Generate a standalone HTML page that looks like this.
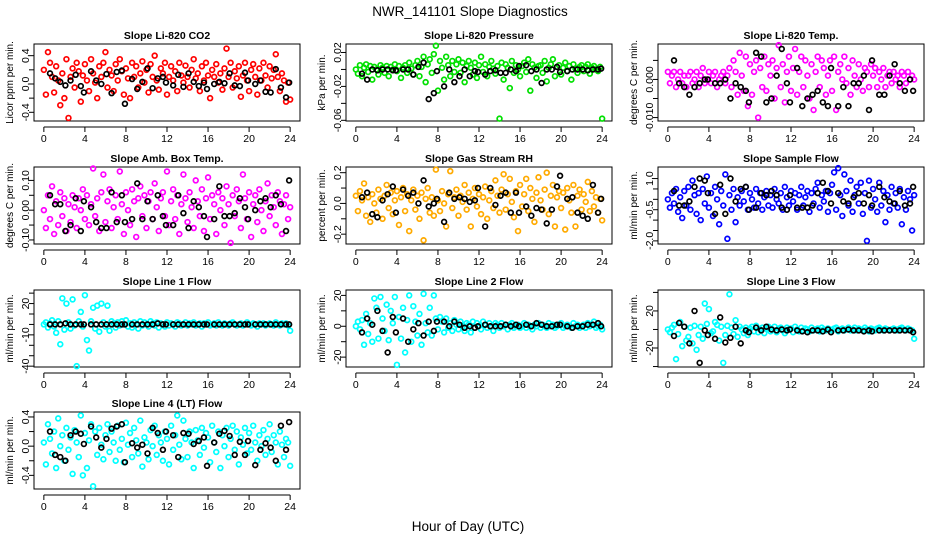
<!DOCTYPE html>
<html><head><meta charset="utf-8"><title>NWR_141101 Slope Diagnostics</title>
<style>
html,body{margin:0;padding:0;background:#fff;}
svg{display:block;font-family:"Liberation Sans",Arial,sans-serif;}
</style></head>
<body>
<svg id="chart" width="936" height="540" viewBox="0 0 936 540" xmlns="http://www.w3.org/2000/svg">
<rect x="0" y="0" width="936" height="540" fill="#fff"/>
<text x="470" y="16" font-size="13.5" text-anchor="middle">NWR_141101  Slope Diagnostics</text>
<text x="468" y="531" font-size="13.5" text-anchor="middle">Hour of Day (UTC)</text>
</svg>
<script>
const hours=[0,0.2,0.4,0.6,0.8,1,1.2,1.4,1.6,1.8,2,2.2,2.4,2.6,2.8,3,3.2,3.4,3.6,3.8,4,4.2,4.4,4.6,4.8,5,5.2,5.4,5.6,5.8,6,6.2,6.4,6.6,6.8,7,7.2,7.4,7.6,7.8,8,8.2,8.4,8.6,8.8,9,9.2,9.4,9.6,9.8,10,10.2,10.4,10.6,10.8,11,11.2,11.4,11.6,11.8,12,12.2,12.4,12.6,12.8,13,13.2,13.4,13.6,13.8,14,14.2,14.4,14.6,14.8,15,15.2,15.4,15.6,15.8,16,16.2,16.4,16.6,16.8,17,17.2,17.4,17.6,17.8,18,18.2,18.4,18.6,18.8,19,19.2,19.4,19.6,19.8,20,20.2,20.4,20.6,20.8,21,21.2,21.4,21.6,21.8,22,22.2,22.4,22.6,22.8,23,23.2,23.4,23.6,23.8,24];
const blackHours=[0.6,1.1,1.6,2.1,2.6,3.1,3.6,3.9,4.6,5.1,5.6,6.1,6.6,7.1,7.6,7.9,8.6,9.1,9.6,10.1,10.6,11.1,11.6,11.9,12.6,13.1,13.6,14.1,14.6,15.1,15.6,15.9,16.6,17.1,17.6,18.1,18.6,19.1,19.6,19.9,20.6,21.1,21.6,22.1,22.6,23.1,23.6,23.9];
const xTicks=[0,4,8,12,16,20,24];

const co2Values=[0.20,-0.15,0.45,0.30,0.10,-0.12,0.25,0.05,-0.30,0.15,-0.20,0.35,-0.48,0.10,0.22,-0.05,0.30,0.18,-0.25,0.12,0.28,0.05,-0.10,0.35,0.15,0.02,-0.20,0.25,0.10,0.30,0.45,-0.05,0.20,0.12,-0.10,0.28,0.05,0.35,0.18,-0.15,0.22,0.08,-0.20,0.30,0.10,0.25,-0.05,0.15,0.32,0.02,0.20,-0.12,0.28,0.10,0.40,0.05,-0.08,0.22,0.15,0.30,-0.15,0.10,0.25,0.05,0.18,-0.10,0.30,0.12,0.02,0.26,0.10,-0.05,0.20,0.35,0.08,0.15,-0.10,0.25,0.05,0.30,0.12,-0.20,0.20,0.10,0.28,0.02,0.15,-0.08,0.22,0.50,0.10,0.30,-0.05,0.18,0.08,0.25,-0.18,0.12,0.30,0.05,-0.10,0.20,0.28,0.10,-0.15,0.22,0.05,0.30,0.12,-0.05,0.25,0.08,0.20,0.42,0.10,-0.10,0.15,0.05,-0.25,0.02,-0.22];
const co2Black=[0.15,0.08,0.03,-0.02,0.05,0.13,-0.03,-0.12,0.18,0.05,0.0,0.14,-0.13,0.17,0.19,-0.28,0.07,-0.07,0.03,0.22,-0.06,0.08,0.1,0.02,-0.02,0.13,-0.04,0.15,0.03,-0.03,0.02,-0.07,0.0,0.03,0.01,0.15,-0.02,-0.03,0.16,0.05,0.0,0.05,-0.11,-0.12,0.21,-0.05,-0.19,0.02];

const pressValues=[0.000,-0.005,0.005,-0.008,0.002,0.006,-0.003,0.004,-0.012,0.003,0.000,-0.006,0.005,0.002,-0.004,0.004,-0.008,0.003,0.000,0.006,-0.002,0.004,-0.010,0.002,0.005,-0.004,0.008,0.001,-0.006,0.005,0.010,-0.008,0.003,0.015,-0.015,0.006,0.012,-0.004,0.018,0.028,-0.025,0.010,0.002,-0.012,0.015,0.005,-0.008,0.010,-0.003,0.006,0.012,-0.004,0.008,-0.015,0.004,0.010,0.002,-0.006,0.008,-0.010,0.005,0.015,-0.003,0.006,-0.008,0.003,0.010,0.001,-0.005,0.004,-0.058,0.008,-0.012,0.006,0.002,-0.022,0.010,-0.004,0.005,0.000,-0.008,0.004,0.008,-0.003,0.012,-0.025,0.006,0.002,-0.010,0.004,0.005,-0.004,0.010,-0.014,0.002,0.006,0.012,-0.008,0.003,0.005,-0.006,0.002,0.008,-0.002,0.004,-0.012,0.006,0.001,-0.004,0.003,0.005,-0.002,0.003,0.006,-0.005,0.002,0.004,0.000,-0.002,0.003,-0.058];
const pressBlack=[-0.005,-0.012,0.0,-0.001,0.0,0.0,-0.001,-0.001,0.0,0.0,-0.006,0.003,0.008,-0.035,-0.028,-0.002,-0.020,0.0,-0.015,-0.008,0.0,-0.008,-0.002,-0.003,-0.006,-0.002,-0.001,-0.004,-0.004,0.0,-0.002,0.004,0.005,-0.002,0.0,-0.016,0.0,0.0,0.003,-0.003,-0.002,0.0,0.0,0.0,-0.001,0.0,0.0,0.001];

const tempValues=[0.002,-0.001,0.001,0.002,-0.002,0.000,0.002,-0.001,0.001,-0.002,0.001,0.002,-0.001,0.000,0.002,-0.002,0.001,0.003,-0.001,0.000,0.002,-0.001,0.001,0.002,-0.002,0.000,0.001,0.002,-0.001,0.001,0.003,-0.002,0.005,0.002,-0.004,0.007,0.001,-0.003,0.006,-0.007,0.004,-0.004,0.002,0.005,-0.010,0.003,-0.002,0.006,-0.003,0.004,0.001,0.005,-0.005,0.003,0.009,-0.002,0.004,-0.006,0.002,0.006,-0.003,0.003,0.008,-0.004,0.002,0.006,-0.002,0.005,0.001,-0.005,0.004,-0.008,0.002,0.006,-0.002,0.005,0.003,-0.004,0.001,0.005,-0.003,0.006,-0.008,0.002,0.004,0.000,0.006,-0.001,0.003,-0.004,0.005,0.001,-0.002,0.004,0.000,-0.003,0.003,0.002,-0.002,0.004,0.001,0.003,-0.002,0.002,0.000,0.003,-0.002,0.001,0.002,-0.001,0.002,0.000,0.001,-0.002,0.002,0.001,-0.001,0.002,0.000,0.001,0.000];
const tempBlack=[0.005,-0.001,-0.002,-0.004,-0.002,-0.001,0.000,0.000,-0.001,-0.001,0.000,-0.005,-0.001,-0.002,-0.003,-0.006,0.007,0.006,-0.006,-0.005,0.001,0.008,-0.001,-0.006,0.003,-0.007,-0.005,-0.004,-0.003,-0.006,-0.007,0.003,-0.007,-0.002,-0.007,-0.001,-0.001,0.001,-0.008,0.005,-0.004,-0.004,0.001,0.004,-0.001,-0.003,0.000,-0.003];

const ambValues=[0.00,-0.06,0.05,-0.03,0.08,-0.08,0.03,-0.05,0.06,-0.02,0.04,-0.07,0.02,-0.04,0.05,0.01,-0.06,0.04,0.00,0.07,-0.03,0.05,-0.05,0.02,0.14,-0.02,0.04,-0.07,0.06,0.12,-0.04,0.03,0.07,-0.06,0.01,0.05,-0.03,0.13,0.02,-0.08,0.06,0.00,-0.05,0.07,0.03,-0.09,0.04,0.08,-0.02,0.05,-0.06,0.03,0.06,-0.03,0.09,0.01,-0.07,0.04,0.06,-0.02,0.13,-0.05,0.03,0.07,-0.03,0.05,-0.08,0.02,0.12,0.04,-0.04,0.06,0.01,-0.06,0.10,0.03,-0.02,0.07,-0.07,0.04,0.11,-0.03,0.05,0.02,-0.08,0.06,0.00,0.04,-0.05,0.08,0.02,-0.11,0.05,-0.02,0.07,0.03,-0.06,0.12,0.04,-0.03,0.06,-0.09,0.02,0.05,-0.04,0.07,0.00,-0.07,0.03,0.09,-0.02,0.05,0.01,-0.05,0.06,0.03,-0.08,0.02,0.05,-0.03,0.01];
const ambBlack=[0.05,0.02,0.02,-0.07,-0.05,0.04,-0.07,0.03,0.01,-0.04,-0.06,-0.06,0.06,-0.04,0.05,-0.04,-0.03,0.09,-0.03,0.03,-0.03,0.05,-0.02,-0.05,-0.05,0.05,-0.01,-0.06,0.03,0.01,-0.02,-0.09,-0.03,0.08,-0.02,-0.02,-0.01,0.04,0.01,-0.03,0.0,0.03,0.04,0.01,0.05,0.02,-0.07,0.1];

const rhValues=[0.05,-0.05,0.08,0.02,0.13,-0.08,0.04,-0.12,0.06,0.00,-0.06,0.09,0.03,-0.10,0.05,0.12,-0.03,0.07,-0.07,0.02,0.08,-0.14,0.04,0.10,-0.05,0.06,-0.18,0.02,0.09,-0.04,0.05,-0.10,0.07,-0.24,0.03,0.10,-0.06,0.04,-0.08,0.22,0.02,-0.05,0.08,0.00,-0.15,0.06,0.21,-0.03,0.04,0.09,-0.08,0.05,0.01,0.12,-0.04,0.07,-0.15,0.03,0.10,-0.02,0.06,-0.07,0.04,0.11,-0.10,0.02,0.08,-0.03,0.15,0.05,-0.06,0.09,0.19,-0.04,0.06,0.16,0.01,-0.09,0.08,-0.18,0.12,-0.02,0.06,0.16,-0.05,0.10,0.03,-0.12,0.07,0.17,0.02,-0.04,0.09,0.20,-0.07,0.05,0.12,-0.15,0.04,0.08,-0.03,0.07,-0.17,0.10,0.02,-0.06,0.12,-0.15,0.05,0.09,-0.04,0.06,0.01,0.14,-0.05,0.08,-0.02,0.04,-0.06,0.03,-0.11];
const rhBlack=[0.04,0.07,-0.07,-0.09,0.02,0.06,0.11,-0.06,0.09,0.05,0.07,0.0,0.15,-0.02,0.0,0.03,-0.12,0.07,0.03,0.04,0.03,0.01,0.02,0.1,-0.15,0.1,-0.01,0.05,0.07,-0.06,0.07,-0.06,-0.02,-0.08,-0.03,-0.04,-0.13,-0.04,0.11,0.18,0.03,0.04,-0.06,-0.08,-0.1,0.12,-0.06,0.03];

const sampleValues=[0.0,-0.4,0.3,-0.2,0.5,-0.6,0.1,-0.9,0.4,-0.3,0.6,-0.5,0.9,0.2,-0.7,0.3,-1.0,0.5,-0.2,1.1,-0.4,0.3,-0.8,0.6,0.0,-1.2,0.4,-0.3,1.2,-1.9,0.2,-0.5,0.5,-1.1,0.1,-0.3,0.4,-0.1,0.6,-0.5,0.3,0.0,-0.4,0.5,-0.2,0.3,-0.5,0.1,0.4,-0.3,0.2,-0.4,0.5,0.0,-0.2,0.3,-0.5,0.6,0.1,-0.3,0.4,-0.1,0.3,-0.5,0.2,0.6,-0.3,0.1,0.4,-0.6,0.3,-0.2,0.5,0.8,-0.4,0.2,-0.1,0.4,-0.6,0.3,0.7,1.3,-0.5,1.5,0.2,-0.8,1.2,0.4,-0.3,0.9,-0.6,0.2,0.6,-0.2,0.8,-0.7,0.3,-2.0,0.9,-0.4,0.5,0.0,-0.6,0.8,-0.3,0.4,-1.1,0.2,-0.5,0.6,-0.2,0.3,-0.4,0.5,-1.2,0.1,-0.5,0.4,0.0,-1.5,0.2];
const sampleBlack=[0.4,-0.3,-0.3,-0.1,0.6,1.0,0.9,0.3,-0.7,0.7,-0.7,1.0,-0.1,0.5,0.6,-0.5,-0.4,0.3,0.2,0.4,0.2,-0.4,-0.5,0.2,-0.4,-0.4,-0.4,-0.3,0.3,0.8,0.4,-0.2,0.3,-0.1,-0.2,0.1,0.3,-0.2,0.2,-0.3,0.6,0.1,-0.1,-0.2,0.4,-0.3,-0.2,0.6];

const line1Values=[0,2,-3,1,4,-2,-8,3,-19,25,-5,20,2,-4,24,-1,-40,3,12,-2,28,-15,-25,3,16,-4,18,-7,20,2,-2,18,-6,3,1,-3,2,-1,3,0,4,-2,1,-3,2,0,-4,3,-1,2,0,-2,3,1,-1,2,-3,1,0,-2,2,-1,1,0,-2,2,1,-1,0,2,-1,1,0,2,-1,0,1,-2,1,0,2,-1,0,1,-1,2,0,-1,1,0,-1,1,2,0,-1,0,1,-1,0,2,0,-1,1,0,-2,1,0,1,-1,0,1,0,-1,2,0,-1,1,0,1,-1,-6];
const line1Black=[0,0,0,1,0,0,0,0,0,0,0,0,0,0,0,0,0,0,0,0,0,1,0,0,0,0,0,0,0,0,0,0,0,0,0,0,0,0,0,0,0,0,0,0,0,0,0,0];

const line2Values=[0,3,-2,4,-12,8,-5,2,-10,18,12,-8,19,5,-3,14,-9,10,2,19,-25,6,-8,12,-17,4,20,-10,13,3,-6,8,-12,21,2,-4,12,-6,20,5,-2,6,3,-4,5,-1,2,-3,4,1,-2,3,0,-3,2,1,-4,3,-1,2,0,-2,3,1,-1,2,0,-3,2,1,-1,2,0,1,-2,1,2,-1,0,1,-1,0,2,-1,1,0,-2,1,0,2,-1,1,0,-1,2,0,1,-1,0,1,2,-1,0,1,0,-1,2,0,1,-1,0,1,-1,2,0,1,3,-1,0,1,-2];
const line2Black=[-4,5,1,10,-3,-17,6,-4,5,-10,-2,2,-6,3,-3,3,3,0,3,1,-1,0,-1,0,1,0,0,0,1,0,1,0,1,0,2,1,0,0,1,1,0,-1,0,0,1,1,2,0];

const line3Values=[0,-3,2,5,-32,-5,8,-18,3,-12,-8,2,-15,4,-22,-6,3,-10,28,6,22,-4,-2,8,5,-12,3,-36,-6,4,38,2,-5,10,-8,3,0,-4,2,-6,1,3,-2,4,-3,0,2,-4,1,3,-2,0,3,-3,1,2,-1,-4,2,0,1,-3,3,0,-2,2,-1,1,0,-2,2,-1,0,1,-2,2,0,-1,1,0,-1,1,2,-2,0,1,-1,0,2,-1,0,2,-1,1,0,-1,2,0,-2,1,0,-1,1,2,0,-1,1,0,-1,0,1,0,-1,1,2,0,-1,1,0,-1,-10];
const line3Black=[-7,7,3,-15,20,-36,-1,-6,-10,13,-14,-9,3,-15,-1,-3,2,-1,3,0,-1,0,-1,0,-1,-2,-3,-1,-1,-2,0,-3,-1,-1,0,-1,-1,-2,-1,-2,-1,-1,-1,-1,-1,-1,-1,-3];

const line4Values=[0.05,-0.25,0.30,0.10,-0.10,0.20,-0.30,0.38,0.00,0.15,-0.20,0.25,-0.05,0.12,-0.38,0.22,0.05,-0.15,0.42,-0.40,0.18,-0.30,0.08,0.30,-0.55,0.20,-0.12,0.25,0.02,-0.18,0.15,0.30,-0.08,0.20,0.05,-0.20,0.28,-0.05,0.10,-0.22,0.32,0.02,0.18,-0.15,0.25,0.08,-0.10,0.35,-0.28,0.12,0.05,-0.18,0.22,0.00,0.28,-0.12,0.15,0.05,-0.20,0.20,0.10,-0.25,0.28,-0.05,0.15,0.42,0.02,-0.18,0.35,0.10,-0.15,0.20,0.05,-0.30,0.22,0.08,-0.12,0.25,-0.02,0.18,0.12,-0.22,0.28,0.05,-0.08,0.20,-0.30,0.15,0.00,0.25,-0.15,0.10,0.28,-0.05,0.20,-0.25,0.12,0.02,0.25,-0.10,0.18,-0.05,0.28,0.05,-0.20,0.15,0.00,0.22,-0.12,0.10,0.30,-0.08,0.15,0.05,-0.25,0.20,0.02,-0.15,0.10,0.05,-0.27];
const line4Black=[0.2,-0.12,-0.15,-0.2,0.15,0.2,0.17,0.03,0.27,0.12,-0.02,0.1,0.24,0.27,0.3,-0.22,0.04,-0.02,0.02,-0.1,0.25,0.18,-0.05,0.2,0.15,-0.15,0.18,0.17,0.03,0.07,0.12,-0.27,0.05,0.17,0.21,0.14,-0.12,0.06,-0.12,0.07,-0.26,-0.05,0.04,-0.02,-0.2,0.28,-0.05,0.33];

const panelTitles=["Slope Li-820 CO2","Slope Li-820 Pressure","Slope Li-820 Temp.","Slope Amb. Box Temp.","Slope Gas Stream RH","Slope Sample Flow","Slope Line 1 Flow","Slope Line 2 Flow","Slope Line 3 Flow","Slope Line 4 (LT) Flow"];
const yTitles=["Licor ppm per min.","kPa per min.","degrees C per min.","degrees C per min.","percent per min.","ml/min per min.","ml/min per min.","ml/min per min.","ml/min per min.","ml/min per min."];
const yTickValues=[[-0.4,-0.2,0,0.2,0.4],[-0.06,-0.04,-0.02,0,0.02],[-0.01,-0.005,0,0.005],[-0.1,-0.05,0,0.05,0.1],[-0.2,-0.1,0,0.1,0.2],[-2,-1.5,-1,-0.5,0,0.5,1],[-40,-30,-20,-10,0,10,20,30],[-20,-10,0,10,20],[-40,-20,0,20,40],[-0.4,-0.2,0,0.2,0.4]];
const yLabelValues=[[-0.4,0,0.4],[-0.06,-0.02,0.02],[-0.01,0],[-0.1,0,0.1],[-0.2,0,0.2],[-2,-0.5,1],[-40,-10,20],[-20,0,20],[-20,20],[-0.4,0,0.4]];
const yLabelText=[["-0.4","0.0","0.4"],["-0.06","-0.02","0.02"],["-0.010","0.000"],["-0.10","0.00","0.10"],["-0.2","0.0","0.2"],["-2.0","-0.5","1.0"],["-40","-10","20"],["-20","0","20"],["-20","20"],["-0.4","0.0","0.4"]];
const yLimits=[[-0.523,0.565],[-0.0608,0.030],[-0.0109,0.0093],[-0.1136,0.145],[-0.264,0.237],[-2.15,1.556],[-40.8,33],[-26.4,23.5],[-40.5,42.6],[-0.587,0.468]];
const colouredSeries=[co2Values,pressValues,tempValues,ambValues,rhValues,sampleValues,line1Values,line2Values,line3Values,line4Values];
const blackSeries=[co2Black,pressBlack,tempBlack,ambBlack,rhBlack,sampleBlack,line1Black,line2Black,line3Black,line4Black];
const seriesColours=["#ff0000","#00e000","#ff00ff","#ff00ff","#ffaa00","#0000ff","#00ffff","#00ffff","#00ffff","#00ffff"];
const slugs=["co2","pressure","li820-temp","amb-box-temp","gas-stream-rh","sample-flow","line1-flow","line2-flow","line3-flow","line4-flow"];

const NS="http://www.w3.org/2000/svg";
const svg=document.getElementById('chart');
const colLefts=[34,346,658], rowTops=[44,167,290,412], W=266, H=77;
function mk(tag,attrs,parent){const e=document.createElementNS(NS,tag);for(const k in attrs)e.setAttribute(k,attrs[k]);parent.appendChild(e);return e;}

for(let p=0;p<10;p++){
  const L=colLefts[p%3], T=rowTops[Math.floor(p/3)], B=T+H, R=L+W;
  const [y0,y1]=yLimits[p];
  const xs=v=>L+(v+0.96)/25.92*W;
  const ys=v=>B-(v-y0)/(y1-y0)*H;
  const g=mk('g',{},svg);
  
  
  const t=mk('text',{x:(L+R)/2,y:T-5,'font-size':10.5,'font-weight':'bold','text-anchor':'middle'},g);
  t.textContent=panelTitles[p];
  
  
  const box=mk('rect',{x:L,y:T,width:W,height:H,fill:'none',stroke:'#000','stroke-width':1},g);
  
  
  const xa=mk('g',{},g);
  
  
  const ay=B+6;
  mk('line',{x1:xs(xTicks[0]),x2:xs(xTicks[xTicks.length-1]),y1:ay,y2:ay,stroke:'#000'},xa);
  xTicks.forEach(v=>{
    mk('line',{x1:xs(v),x2:xs(v),y1:ay,y2:ay+5,stroke:'#000'},xa);
    const tl=mk('text',{x:xs(v),y:B+21,'font-size':10.5,'text-anchor':'middle'},xa);
    tl.textContent=String(v);
    
    
  });
  const ya=mk('g',{},g);
  
  
  const tv=yTickValues[p];
  mk('line',{x1:L,x2:L,y1:ys(tv[0]),y2:ys(tv[tv.length-1]),stroke:'#000'},ya);
  tv.forEach(v=>{mk('line',{x1:L-5,x2:L,y1:ys(v),y2:ys(v),stroke:'#000'},ya);});
  yLabelValues[p].forEach((v,i)=>{
    const tl=mk('text',{x:0,y:0,'font-size':10.5,'text-anchor':'middle',transform:`translate(${L-5},${ys(v)}) rotate(-90)`},ya);
    tl.textContent=yLabelText[p][i];
    
    
  });
  const yt=mk('text',{x:0,y:0,'font-size':10,'text-anchor':'middle',transform:`translate(${L-21},${(T+B)/2}) rotate(-90)`},g);
  yt.textContent=yTitles[p];
  
  
  const pts=mk('g',{fill:'none',stroke:seriesColours[p],'stroke-width':1.7},g);
  
  
  colouredSeries[p].forEach((v,i)=>{
    if(i>=hours.length)return;
    const c=mk('circle',{cx:xs(hours[i]),cy:ys(v),r:2.4},pts);
    
    
  });
  const bp=mk('g',{fill:'none',stroke:'#000','stroke-width':1.7},g);
  
  
  blackSeries[p].forEach((v,i)=>{
    if(i>=blackHours.length)return;
    const c=mk('circle',{cx:xs(blackHours[i]),cy:ys(v),r:2.4},bp);
    
    
  });
}
</script>
</body></html>
